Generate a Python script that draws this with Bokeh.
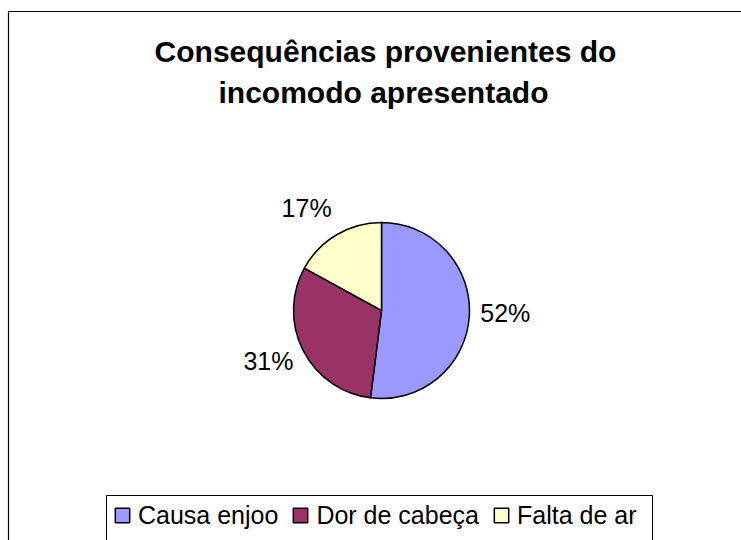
import math
from bokeh.plotting import figure
from bokeh.models import ColumnDataSource, Range1d
from bokeh.core.properties import value
from bokeh.embed import file_html
from bokeh.resources import INLINE

# ---- data ----
categories = ["Causa enjoo", "Dor de cabeça", "Falta de ar"]
values = [52, 31, 17]
pct_labels = ["52%", "31%", "17%"]
colors = ["#9999FF", "#993366", "#FFFFCC"]
title_lines = ["Consequências provenientes do", "incomodo apresentado"]

W, H = 741, 540
FONT = "Liberation Sans"

p = figure(width=W, height=H, output_backend="svg", toolbar_location=None,
           x_range=Range1d(0, W), y_range=Range1d(0, H),
           x_axis_type=None, y_axis_type=None, min_border=0)
p.outline_line_color = None
p.background_fill_color = "white"
p.border_fill_color = "white"

# outer chart border (extends beyond window at right/bottom)
p.quad(left=[8], right=[W + 60], top=[H - 11], bottom=[-60],
       fill_color=None, line_color="#000000", line_width=1.2)

# ---- pie ----
cx, cy, R = 381, H - 310, 88
total = float(sum(values))
starts, ends, mids = [], [], []
acc = 0.0
for v in values:
    a0 = math.pi / 2 - 2 * math.pi * acc / total
    acc += v
    a1 = math.pi / 2 - 2 * math.pi * acc / total
    starts.append(a0)
    ends.append(a1)
    mids.append((a0 + a1) / 2)

src = ColumnDataSource(dict(category=categories, value=values,
                            start=starts, end=ends, color=colors))
p.wedge(x=cx, y=cy, radius=R, start_angle="start", end_angle="end",
        direction="clock", fill_color="color", line_color="black",
        line_width=1.5, source=src, legend_field="category")

# ---- percentage labels (outside end) ----
lab_size = 25
d = R + 12
lx, ly = [], []
for m, t in zip(mids, pct_labels):
    w = 0.98 * lab_size * len(t) * 0.68
    h = 22
    c, s = math.cos(m), math.sin(m)
    ox = (w / 2) * max(-1.0, min(1.0, 2 * c))
    oy = (h / 2) * max(-1.0, min(1.0, 2 * s))
    lx.append(cx + d * c + ox - 2 * (1 if c > 0 else -1) * 0.5)
    ly.append(cy + d * s + oy + 5)
p.text(x=lx, y=ly, text=pct_labels, text_align="center", text_baseline="middle",
       text_font=value(FONT), text_font_size=f"{lab_size}px", text_color="black")

# ---- title ----
p.text(x=[385, 383], y=[H - 51, H - 92], text=title_lines,
       text_align="center", text_baseline="alphabetic",
       text_font=value(FONT), text_font_size="30px", text_font_style="bold",
       text_color="black")

# ---- legend ----
p.quad(left=[106], right=[652], top=[H - 495], bottom=[-60],
       fill_color=None, line_color="black", line_width=1)
lg = p.legend[0]
lg.orientation = "horizontal"
lg.location = (113, 10)
lg.padding = 0
lg.margin = 0
lg.spacing = 13
lg.glyph_width = 18
lg.glyph_height = 18
lg.label_standoff = 7
lg.label_height = 30
lg.label_text_font = FONT
lg.label_text_font_size = "25px"
lg.label_text_color = "black"
lg.border_line_color = None
lg.background_fill_alpha = 0

open("out.html", "w").write(file_html(p, INLINE))
